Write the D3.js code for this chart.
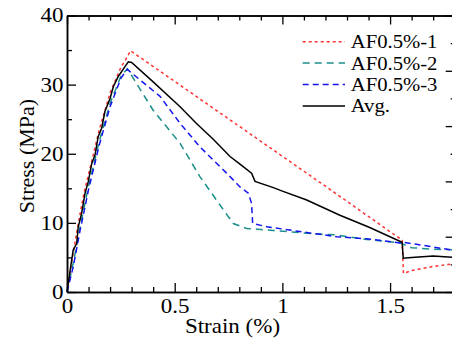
<!DOCTYPE html>
<html>
<head>
<meta charset="utf-8">
<script src="https://cdn.jsdelivr.net/npm/d3@7"></script>
<style>
  body { margin: 0; background: #fff; }
</style>
</head>
<body>
<svg id="chart" width="452" height="345"></svg>
<script>
// series: strain (%) and stress (MPa)
const strain1 = [0, 0.02, 0.05, 0.08, 0.1, 0.15, 0.2, 0.25, 0.27, 0.295, 0.6, 0.9, 1.2, 1.556, 1.562, 1.6, 1.7, 1.8]
const stress1 = [0, 4.0, 9.5, 14.5, 17.0, 23.5, 28.8, 32.5, 33.5, 34.9, 28.3, 21.8, 15.3, 7.5, 2.7, 3.1, 3.7, 4.1]

const strain2 = [0, 0.03, 0.06, 0.1, 0.15, 0.2, 0.25, 0.28, 0.4, 0.525, 0.617, 0.726, 0.772, 0.834, 0.958, 1.113, 1.252, 1.391, 1.546, 1.6, 1.7, 1.8]
const stress2 = [0, 4.3, 9.3, 15.3, 21.8, 27.3, 31.2, 32.3, 26.3, 21.5, 16.7, 11.9, 9.9, 9.2, 8.9, 8.5, 8.25, 7.6, 7.1, 6.4, 6.2, 6.1]

const strain3 = [0, 0.03, 0.06, 0.1, 0.15, 0.2, 0.25, 0.28, 0.432, 0.525, 0.617, 0.741, 0.803, 0.842, 0.857, 0.862, 0.927, 1.113, 1.252, 1.391, 1.546, 1.56, 1.623, 1.8]
const stress3 = [0, 3.8, 8.8, 14.8, 21.3, 26.8, 30.9, 32.2, 28.3, 24.4, 21.0, 17.2, 15.2, 14.3, 12.8, 9.9, 9.45, 8.6, 8.0, 7.7, 7.1, 7.2, 6.9, 6.0]

const strainAvg = [0, 0.015, 0.029, 0.045, 0.052, 0.068, 0.084, 0.099, 0.115, 0.13, 0.145, 0.161, 0.176, 0.2, 0.215, 0.238, 0.254, 0.269, 0.285, 0.3, 0.4, 0.525, 0.6, 0.679, 0.757, 0.803, 0.857, 0.873, 0.958, 1.0, 1.113, 1.267, 1.4, 1.556, 1.561, 1.6, 1.7, 1.8]
const stressAvg = [0, 3.2, 6.1, 7.0, 9.4, 11.4, 14.3, 16.0, 18.6, 19.8, 22.5, 23.7, 26.1, 28.0, 29.7, 31.2, 31.9, 32.6, 33.3, 33.2, 30.4, 26.8, 24.4, 22.1, 19.6, 18.5, 17.2, 16.0, 15.1, 14.6, 13.3, 11.1, 9.4, 7.2, 4.9, 5.0, 5.2, 5.0]

const seriesNames = ["AF0.5%-1", "AF0.5%-2", "AF0.5%-3", "Avg."]

const xMajor = [0, 0.5, 1, 1.5]
const xMinor = [0.1, 0.2, 0.3, 0.4, 0.6, 0.7, 0.8, 0.9, 1.1, 1.2, 1.3, 1.4, 1.6, 1.7]
const yMajor = [0, 10, 20, 30, 40]
const yMinor = [5, 15, 25, 35]
const rightMajor = [0, 8, 16, 24, 32, 40]
const rightMinor = [4, 12, 20, 28, 36]

const series = [
  { name: seriesNames[0], pts: d3.zip(strain1, stress1), color: "#ff3333", dash: "3,3" },
  { name: seriesNames[1], pts: d3.zip(strain2, stress2), color: "#1a8f8a", dash: "7,5" },
  { name: seriesNames[2], pts: d3.zip(strain3, stress3), color: "#1414f0", dash: "6,4" },
  { name: seriesNames[3], pts: d3.zip(strainAvg, stressAvg), color: "#000", dash: null },
]

const serif = "Liberation Serif"
const svg = d3.select("#chart")
const x = d3.scaleLinear().domain([0, 1.8]).range([67, 454.7])
const y = d3.scaleLinear().domain([0, 40]).range([292, 15.5])
const stretch = "scale(1.15,1)"

const styleAxis = (g) => {
  g.attr("font-family", null).attr("font-size", null)
  g.select(".domain").attr("stroke", "#000").attr("stroke-width", 1.5)
  g.selectAll(".tick line").attr("stroke", "#000").attr("stroke-width", 1.3)
  g.selectAll(".tick text")
    .attr("fill", "#000")
    .style("font-family", serif)
    .style("font-size", "20px")
    .attr("transform", stretch)
}

// bottom
svg.append("g")
  .attr("transform", `translate(0,${y(0)})`)
  .call(d3.axisBottom(x).tickValues(xMinor).tickSizeInner(-5).tickSizeOuter(0).tickFormat(""))
  .call(styleAxis)
svg.append("g")
  .attr("transform", `translate(0,${y(0)})`)
  .call(d3.axisBottom(x).tickValues(xMajor).tickSizeInner(-9).tickSizeOuter(0).tickPadding(7).tickFormat(d3.format("~g")))
  .call(styleAxis)
// top
svg.append("g")
  .attr("transform", `translate(0,${y(40)})`)
  .call(d3.axisTop(x).tickValues(xMinor).tickSizeInner(-5).tickSizeOuter(0).tickFormat(""))
  .call(styleAxis)
svg.append("g")
  .attr("transform", `translate(0,${y(40)})`)
  .call(d3.axisTop(x).tickValues(xMajor).tickSizeInner(-9).tickSizeOuter(0).tickFormat(""))
  .call(styleAxis)
// left
svg.append("g")
  .attr("transform", `translate(${x(0)},0)`)
  .call(d3.axisLeft(y).tickValues(yMinor).tickSizeInner(-5).tickSizeOuter(0).tickFormat(""))
  .call(styleAxis)
svg.append("g")
  .attr("transform", `translate(${x(0)},0)`)
  .call(d3.axisLeft(y).tickValues(yMajor).tickSizeInner(-9).tickSizeOuter(0).tickPadding(3).tickFormat(d3.format("d")))
  .call(styleAxis)
// right
svg.append("g")
  .attr("transform", `translate(${x(1.8)},0)`)
  .call(d3.axisRight(y).tickValues(rightMinor).tickSizeInner(-4).tickSizeOuter(0).tickFormat(""))
  .call(styleAxis)
svg.append("g")
  .attr("transform", `translate(${x(1.8)},0)`)
  .call(d3.axisRight(y).tickValues(rightMajor).tickSizeInner(-9).tickSizeOuter(0).tickFormat(""))
  .call(styleAxis)

// curves
const line = d3.line().x((d) => x(d[0])).y((d) => y(d[1]))
svg.append("g")
  .selectAll("path")
  .data(series)
  .join("path")
  .attr("d", (d) => line(d.pts))
  .attr("fill", "none")
  .attr("stroke", (d) => d.color)
  .attr("stroke-width", 1.5)
  .attr("stroke-dasharray", (d) => d.dash)

// axis titles
svg.append("text")
  .attr("transform", `translate(232.5,333) ${stretch}`)
  .attr("text-anchor", "middle")
  .style("font-family", serif)
  .style("font-size", "20px")
  .text("Strain (%)")
svg.append("text")
  .attr("transform", "translate(33.5,156) rotate(-90)")
  .attr("text-anchor", "middle")
  .style("font-family", serif)
  .style("font-size", "22px")
  .text("Stress (MPa)")

// legend
const legend = svg.append("g")
  .selectAll("g")
  .data(series)
  .join("g")
  .attr("transform", (d, i) => `translate(0,${41.7 + i * 21.4})`)
legend.append("line")
  .attr("x1", 302.7)
  .attr("x2", 345)
  .attr("stroke", (d) => d.color)
  .attr("stroke-width", 1.5)
  .attr("stroke-dasharray", (d) => d.dash)
legend.append("text")
  .attr("transform", `translate(350.7,6.5) ${stretch}`)
  .style("font-family", serif)
  .style("font-size", "18px")
  .text((d) => d.name)
</script>
</body>
</html>
